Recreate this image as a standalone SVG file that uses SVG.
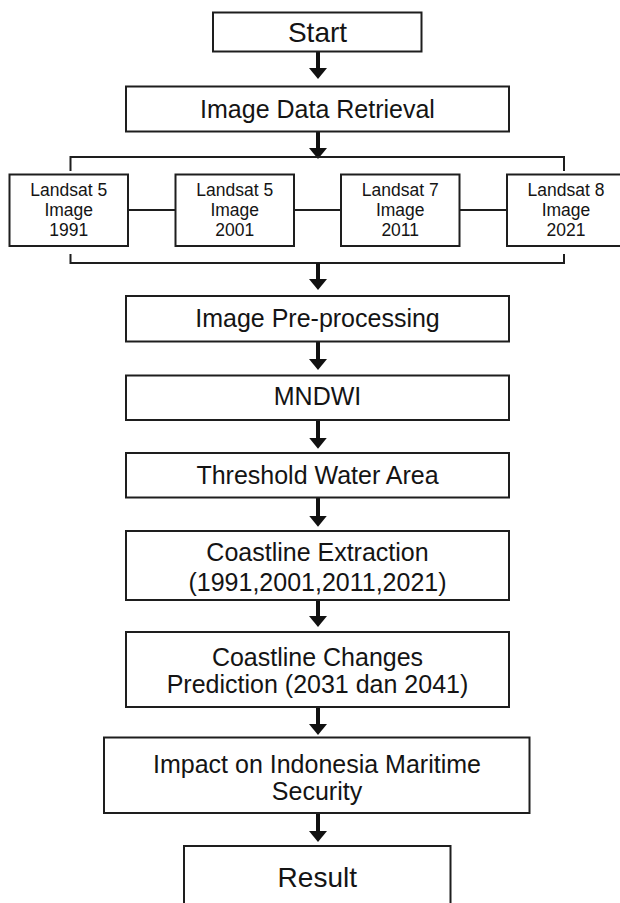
<svg xmlns="http://www.w3.org/2000/svg" width="620" height="903" viewBox="0 0 620 903">
<style>
.box{fill:#fff;stroke:#1e1e1e;stroke-width:2}
.t{font-family:"Liberation Sans",Arial,sans-serif;font-size:25px;fill:#141414;text-anchor:middle}
.big{font-size:28px}
.sm{font-size:17.5px}
.ln{fill:none;stroke:#1e1e1e;stroke-width:2}
.ar{fill:none;stroke:#111;stroke-width:4}
</style>
<defs>
<marker id="ah" markerUnits="userSpaceOnUse" viewBox="0 0 11 18" refX="5" refY="9" markerWidth="11" markerHeight="18" orient="auto">
<path d="M0,0 L11,9 L0,18 z" fill="#111"/>
</marker>
</defs>
<rect width="620" height="903" fill="#fff"/>
<g id="connectors">
<path class="ar" d="M318,52 V73" marker-end="url(#ah)"/>
<path class="ar" d="M318,131 V153" marker-end="url(#ah)"/>
<path class="ln" d="M70.5,171 V157 H564 V171"/>
<path class="ln" d="M128,210 H175.5 M294,210 H341 M459.5,210 H507"/>
<path class="ln" d="M70.5,254 V263 H564 V254"/>
<path class="ar" d="M318,263 V284" marker-end="url(#ah)"/>
<path class="ar" d="M318,341.5 V364" marker-end="url(#ah)"/>
<path class="ar" d="M318,420 V442.7" marker-end="url(#ah)"/>
<path class="ar" d="M318,497.5 V520.7" marker-end="url(#ah)"/>
<path class="ar" d="M318,600 V621" marker-end="url(#ah)"/>
<path class="ar" d="M318,707 V729" marker-end="url(#ah)"/>
<path class="ar" d="M318,813 V836" marker-end="url(#ah)"/>
</g>
<g id="start"><rect class="box" x="213" y="12.5" width="208.5" height="39"/><text class="t big" x="317.5" y="41.7">Start</text></g>
<g id="retrieval"><rect class="box" x="126" y="86.5" width="383" height="45"/><text class="t" x="317.5" y="118.3">Image Data Retrieval</text></g>
<g id="landsat1991"><rect class="box" x="9.5" y="174.5" width="118.5" height="71.5"/><text class="t sm" x="68.7" y="196">Landsat 5</text><text class="t sm" x="68.7" y="216">Image</text><text class="t sm" x="68.7" y="236">1991</text></g>
<g id="landsat2001"><rect class="box" x="175.5" y="174.5" width="118.5" height="71.5"/><text class="t sm" x="234.7" y="196">Landsat 5</text><text class="t sm" x="234.7" y="216">Image</text><text class="t sm" x="234.7" y="236">2001</text></g>
<g id="landsat2011"><rect class="box" x="341" y="174.5" width="118.5" height="71.5"/><text class="t sm" x="400.2" y="196">Landsat 7</text><text class="t sm" x="400.2" y="216">Image</text><text class="t sm" x="400.2" y="236">2011</text></g>
<g id="landsat2021"><rect class="box" x="507" y="174.5" width="118.5" height="71.5"/><text class="t sm" x="566" y="196">Landsat 8</text><text class="t sm" x="566" y="216">Image</text><text class="t sm" x="566" y="236">2021</text></g>
<g id="preprocessing"><rect class="box" x="126" y="296" width="383" height="45.5"/><text class="t" x="317.5" y="326.7">Image Pre-processing</text></g>
<g id="mndwi"><rect class="box" x="126" y="375.5" width="383" height="44.5"/><text class="t" x="317.5" y="405">MNDWI</text></g>
<g id="threshold"><rect class="box" x="126" y="453" width="383" height="44.5"/><text class="t" x="317.5" y="484.3">Threshold Water Area</text></g>
<g id="extraction"><rect class="box" x="126" y="531" width="383" height="69"/><text class="t" x="317.5" y="561">Coastline Extraction</text><text class="t" x="317.5" y="590.7">(1991,2001,2011,2021)</text></g>
<g id="prediction"><rect class="box" x="126" y="632" width="383" height="75"/><text class="t" x="317.5" y="665.7">Coastline Changes</text><text class="t" x="317.5" y="693.3">Prediction (2031 dan 2041)</text></g>
<g id="impact"><rect class="box" x="104" y="737.5" width="425.5" height="75.5"/><text class="t" x="317" y="772.7">Impact on Indonesia Maritime</text><text class="t" x="317" y="800">Security</text></g>
<g id="result"><rect class="box" x="184" y="846" width="266.5" height="70"/><text class="t big" x="317.3" y="886.7">Result</text></g>
</svg>
